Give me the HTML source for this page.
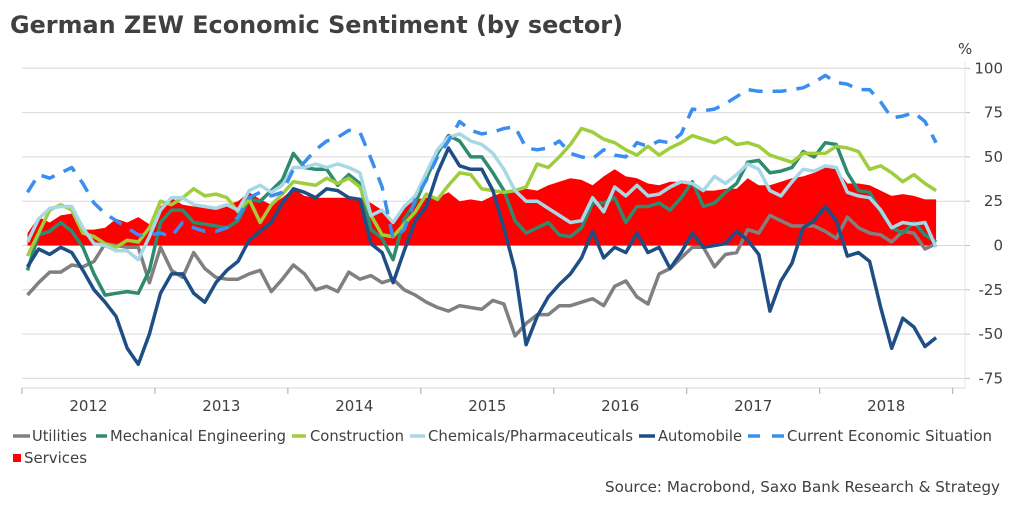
<!DOCTYPE html>
<html><head><meta charset="utf-8"><style>
html,body{margin:0;padding:0;background:#fff;}
svg{display:block;font-family:"DejaVu Sans","Liberation Sans",sans-serif;}
</style></head><body>
<svg id="chart" width="1012" height="506" viewBox="0 0 1012 506" xmlns="http://www.w3.org/2000/svg">
<text x="10" y="33" font-size="24" font-weight="bold" fill="#404040" textLength="613" lengthAdjust="spacingAndGlyphs">German ZEW Economic Sentiment (by sector)</text>
<text x="958" y="54" font-size="15" fill="#404040">%</text>
<g id="grid"></g>
<g id="services-layer"></g>
<g id="lines"></g>
<g id="axes"></g>
<g font-size="15" fill="#404040">
 <g><line x1="13" y1="436" x2="30" y2="436" stroke="#808080" stroke-width="3.5"/><text x="32" y="441" textLength="55" lengthAdjust="spacingAndGlyphs">Utilities</text></g>
 <g><line x1="96" y1="436" x2="107" y2="436" stroke="#2e8b6e" stroke-width="3.5"/><text x="110" y="441" textLength="176" lengthAdjust="spacingAndGlyphs">Mechanical Engineering</text></g>
 <g><line x1="292" y1="436" x2="306" y2="436" stroke="#9fcd3c" stroke-width="3.5"/><text x="310" y="441" textLength="94" lengthAdjust="spacingAndGlyphs">Construction</text></g>
 <g><line x1="410" y1="436" x2="425" y2="436" stroke="#a8d8e6" stroke-width="3.5"/><text x="428" y="441" textLength="205" lengthAdjust="spacingAndGlyphs">Chemicals/Pharmaceuticals</text></g>
 <g><line x1="639" y1="436" x2="655" y2="436" stroke="#1f4e85" stroke-width="3.5"/><text x="658" y="441" textLength="84" lengthAdjust="spacingAndGlyphs">Automobile</text></g>
 <g><line x1="748" y1="436" x2="784" y2="436" stroke="#3a8ef0" stroke-width="3.5" stroke-dasharray="12,12"/><text x="787" y="441" textLength="205" lengthAdjust="spacingAndGlyphs">Current Economic Situation</text></g>
 <g><rect x="13" y="454" width="8" height="8" fill="#ff0000"/><text x="24" y="463" textLength="63" lengthAdjust="spacingAndGlyphs">Services</text></g>
</g>
<text x="1000" y="492" font-size="15" fill="#404040" text-anchor="end" textLength="395" lengthAdjust="spacingAndGlyphs">Source: Macrobond, Saxo Bank Research &amp; Strategy</text>
</svg>
<script>
const yearLabels = ["2012","2013","2014","2015","2016","2017","2018"];
const yTicks = [100,75,50,25,0,-25,-50,-75];
const utilities = [-28,-21,-15,-15,-11,-12,-9,1,0,-1,-1,-21,-1,-14,-18,-4,-13,-18,-19,-19,-16,-14,-26,-19,-11,-16,-25,-23,-26,-15,-19,-17,-21,-19,-25,-28,-32,-35,-37,-34,-35,-36,-31,-33,-51,-44,-39,-39,-34,-34,-32,-30,-34,-23,-20,-29,-33,-16,-13,-7,-1,-1,-12,-5,-4,9,7,17,14,11,11,11,8,4,16,10,7,6,2,8,7,-2,1];
const mechanical = [-14,6,8,13,8,-1,-16,-28,-27,-26,-27,-14,13,20,20,13,12,11,10,14,26,25,31,37,52,44,43,43,34,40,35,9,4,-8,15,24,38,52,62,59,50,50,41,31,14,7,10,13,6,5,10,24,24,27,13,22,22,24,20,27,36,22,24,30,35,47,48,41,42,44,53,50,58,57,41,31,30,19,10,7,13,6,2];
const construction = [-6,7,20,23,20,7,5,1,-1,3,2,10,25,23,27,32,28,29,27,19,26,13,23,29,36,35,34,38,35,38,33,17,6,5,12,19,29,26,34,41,40,32,31,30,31,33,46,44,50,57,66,64,60,58,54,51,56,51,55,58,62,60,58,61,57,58,56,51,49,47,52,52,52,56,55,53,43,45,41,36,40,35,31];
const chemicals = [2,15,21,22,22,10,1,0,-3,-3,-8,5,20,27,27,23,22,21,23,20,31,34,30,34,44,44,46,44,46,44,41,17,20,13,22,28,41,54,61,63,59,57,52,43,31,25,25,21,17,13,14,27,19,33,28,34,28,29,33,36,35,31,39,35,40,46,43,31,28,36,43,42,45,44,30,28,27,20,10,13,12,13,-1];
const automobile = [-12,-2,-5,-1,-4,-14,-25,-32,-40,-58,-67,-50,-27,-16,-16,-27,-32,-21,-14,-9,3,8,13,24,32,30,27,32,31,27,26,1,-4,-21,-3,14,22,41,55,45,43,43,31,10,-14,-56,-40,-29,-22,-16,-7,8,-7,-1,-4,7,-4,-1,-13,-4,7,-1,0,1,8,3,-5,-37,-20,-10,10,14,22,14,-6,-4,-9,-35,-58,-41,-46,-57,-52];
const currentSituation = [30,40,38,41,44,35,24,18,14,10,6,6,7,5,13,10,8,8,10,16,27,30,28,30,43,47,54,59,61,65,64,49,33,4,9,26,37,50,59,70,65,63,64,66,67,55,54,55,59,52,50,49,54,51,50,58,56,59,58,63,77,76,77,80,84,88,87,87,87,88,89,92,96,92,91,88,88,81,72,73,75,70,58];
const services = [7,16,13,17,18,9,9,10,15,13,16,12,22,27,23,22,22,21,23,25,30,26,23,27,32,28,27,27,27,27,27,24,20,13,21,26,27,27,30,25,26,25,28,30,30,32,31,34,36,38,37,34,39,43,39,38,35,34,36,36,36,31,31,32,32,38,34,34,36,38,39,41,44,43,35,35,34,31,28,29,28,26,26];

const NS = "http://www.w3.org/2000/svg";
const X0 = 27.5, DX = 11.08, Y0 = 245.5, PPU = 44.3/25;
const xPos = i => X0 + i*DX;
const yPos = v => Y0 - v*PPU;
function mk(tag, attrs, parent){ const e=document.createElementNS(NS,tag); for(const k in attrs) e.setAttribute(k,attrs[k]); parent.appendChild(e); return e; }

const grid = document.getElementById('grid');
yTicks.forEach(t=>{
  const y = yPos(t);
  const gl = mk('line',{x1:22,x2:965,y1:y,y2:y,stroke:'#d9d9d9','stroke-width':1},grid);
  
  
  const tk = mk('line',{x1:965,x2:970,y1:y,y2:y,stroke:'#bfbfbf','stroke-width':1},grid);
  
  
  const lb = mk('text',{x:1003,y:y+5,'font-size':15,fill:'#404040','text-anchor':'end'},grid);
  lb.textContent = t;
  
  
});

const sl = document.getElementById('services-layer');
let d = 'M'+xPos(0)+','+yPos(0);
services.forEach((v,i)=>{ d += ' L'+xPos(i).toFixed(1)+','+yPos(v).toFixed(1); });
d += ' L'+xPos(services.length-1)+','+yPos(0)+' Z';
const area = mk('path',{d:d,fill:'#ff0000'},sl);



const lines = document.getElementById('lines');
function drawLine(arr,color,name,dash){
  const pts = arr.map((v,i)=>xPos(i).toFixed(1)+','+yPos(v).toFixed(1)).join(' ');
  const a = {points:pts,fill:'none',stroke:color,'stroke-width':3.5,'stroke-linejoin':'round'};
  if(dash) a['stroke-dasharray']=dash;
  const p = mk('polyline',a,lines);
  
  
}
drawLine(utilities,'#808080','utilities-line');
drawLine(mechanical,'#2e8b6e','mechanical-engineering-line');
drawLine(construction,'#9fcd3c','construction-line');
drawLine(chemicals,'#a8d8e6','chemicals-line');
drawLine(automobile,'#1f4e85','automobile-line');
drawLine(currentSituation,'#3a8ef0','current-economic-situation-line','14,10');

const axes = document.getElementById('axes');
const ax = mk('line',{x1:22,x2:965,y1:388,y2:388,stroke:'#d9d9d9','stroke-width':1},axes);


const ay = mk('line',{x1:965,x2:965,y1:62,y2:388,stroke:'#e6e6e6','stroke-width':1},axes);


for(let k=0;k<=yearLabels.length;k++){
  const x = X0 - DX/2 + k*12*DX;
  const t = mk('line',{x1:x,x2:x,y1:388,y2:394,stroke:'#a6a6a6','stroke-width':1},axes);
  
  
}
yearLabels.forEach((yr,k)=>{
  const x = X0 - DX/2 + (k+0.5)*12*DX;
  const t = mk('text',{x:x,y:411,'font-size':15,fill:'#404040','text-anchor':'middle'},axes);
  t.textContent = yr;
  
  
});
</script>
</body></html>
